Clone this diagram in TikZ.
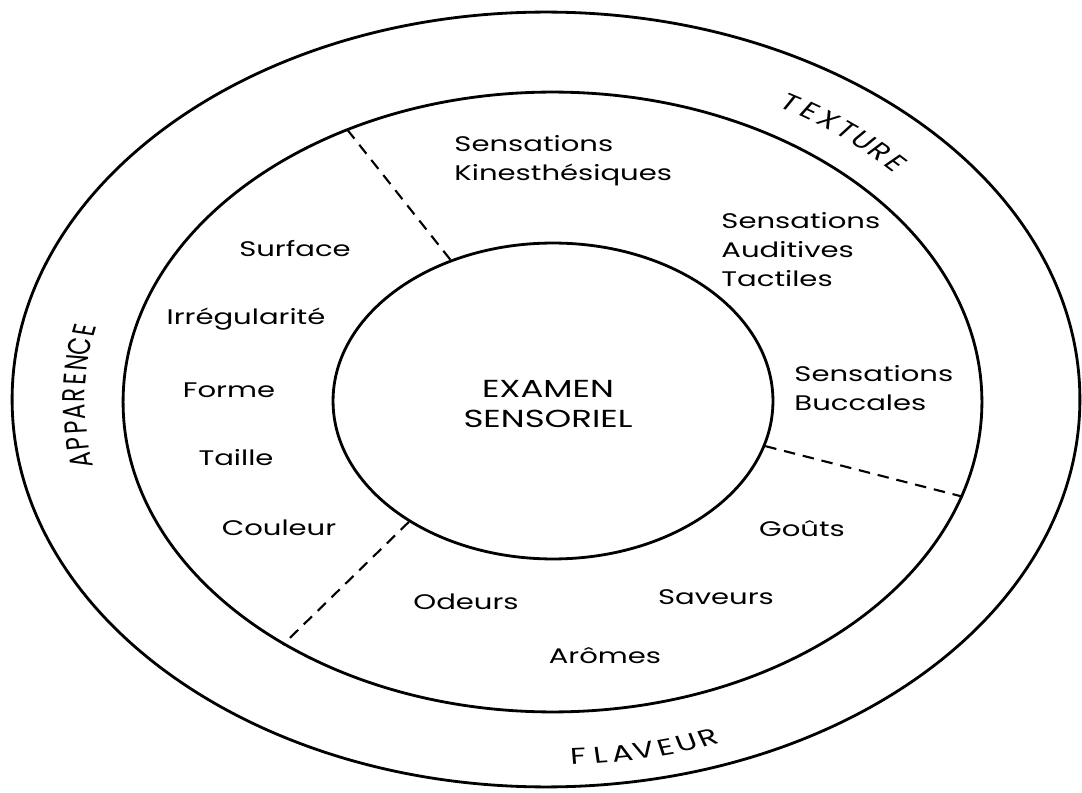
\documentclass[tikz,border=0pt]{standalone}
\usepackage{fontspec}
\setmainfont{Poppins}
\usetikzlibrary{shapes.geometric}

\begin{document}
\begin{tikzpicture}[
  x=0.02cm,
  y=0.02cm,
  ring/.style={
    draw,
    ellipse,
    line width=1.6pt,
    inner sep=0pt
  },
  divider/.style={
    line width=1.2pt,
    dash pattern=on 6.5pt off 4.5pt
  },
  word/.style={
    font=\fontsize{12}{16.5}\selectfont,
    xscale=1.38,
    inner sep=0pt,
    align=left
  },
  bandletter/.style={
    font=\fontsize{13}{15}\selectfont,
    transform shape,
    inner sep=0pt
  }
]
\useasboundingbox (0,0) rectangle (1082,792);

% the three rings
\node[ring, minimum width=21.36cm, minimum height=15.5cm] (outer) at (546,392.5) {};
\node[ring, minimum width=17.18cm, minimum height=12.4cm] (middle) at (552.5,390) {};
\node[ring, minimum width=8.8cm, minimum height=6.32cm] (inner) at (553,391) {};

\node[word, align=center, font=\fontsize{14}{17}\selectfont] (examen) at (548,388) {EXAMEN\\SENSORIEL};

% dividers between the sectors
\draw[divider] (inner.126.4) -- (middle.127.6);
\draw[divider] (inner.220.5) -- (middle.222);
\draw[divider] (inner.-12.6) -- (middle.-13.3);

% texture
\node[word, anchor=west] (kin) at (454,631) {Sensations\\Kinesthésiques};
\node[word, anchor=west] (aud) at (721,542) {Sensations\\Auditives\\Tactiles};
\node[word, anchor=west] (buc) at (794,403.5) {Sensations\\Buccales};

% apparence
\node[word] (surf) at (295,543) {Surface};
\node[word] (irr) at (246,473) {Irrégularité};
\node[word] (forme) at (229,402) {Forme};
\node[word] (taille) at (236,334) {Taille};
\node[word] (coul) at (279,264) {Couleur};

% flaveur
\node[word] (gouts) at (802,263) {Goûts};
\node[word] (sav) at (716,195) {Saveurs};
\node[word] (odeurs) at (466,190) {Odeurs};
\node[word] (aromes) at (605,136) {Arômes};

% curved band titles
\begin{scope}[shift={(550,391)}, xscale=1.38]
  \foreach \ch [count=\i from 0] in {T,E,X,T,U,R,E}
    \node[bandletter, rotate={59.7-2.7*\i-90}] (tex\i) at ({59.7-2.7*\i}:346) {\ch};
  \foreach \ch [count=\i from 0] in {F,L,A,V,E,U,R}
    \node[bandletter, rotate={273.3+2.57*\i+90}] (fla\i) at ({273.3+2.57*\i}:356) {\ch};
  \foreach \ch [count=\i from 0] in {A,P,P,A,R,E,N,C,E}
    \node[bandletter, rotate={189.9-2.71*\i-90}] (app\i) at ({189.9-2.71*\i}:345) {\ch};
\end{scope}

\end{tikzpicture}
\end{document}
